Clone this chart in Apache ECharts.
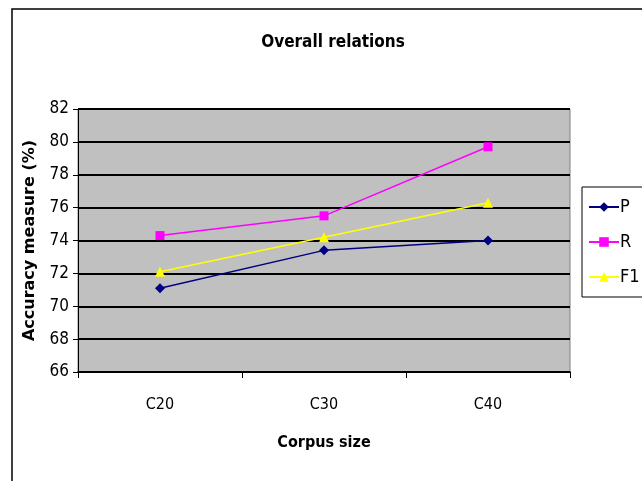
<!DOCTYPE html>
<html>
<head>
<meta charset="utf-8">
<script src="https://cdn.jsdelivr.net/npm/echarts@6/dist/echarts.min.js"></script>
<style>
html, body { margin: 0; padding: 0; background: #fff; }
#container { width: 642px; height: 481px; }
</style>
</head>
<body>
<div id="container"></div>
<script>
var categories = ['C20', 'C30', 'C40'];
var pValues = [71.1, 73.4, 74.0];
var rValues = [74.3, 75.5, 79.7];
var f1Values = [72.1, 74.2, 76.3];

window.onload = function () {
    var dom = document.getElementById("container");
    var myChart = echarts.init(dom);
    var narrow = '"DejaVu Sans Condensed", "Liberation Sans Narrow", sans-serif';
    var option = {
        backgroundColor: '#fff',
        graphic: [{
            type: 'rect',
            shape: { x: 12, y: 9, width: 640, height: 480 },
            style: { fill: 'none', stroke: '#000', lineWidth: 1.5 },
            z: 0
        }],
        title: {
            text: 'Overall relations',
            left: 328,
            top: 29,
            textAlign: 'center',
            textStyle: { fontFamily: narrow, fontSize: 17, fontWeight: 'bold', color: '#000' }
        },
        legend: {
            orient: 'vertical',
            left: 582,
            top: 187,
            padding: [11, 6, 11, 6],
            itemGap: 17,
            itemWidth: 30,
            itemHeight: 12,
            borderColor: '#000',
            borderWidth: 1,
            textStyle: { fontFamily: narrow, fontSize: 18, color: '#000', padding: [0, 0, 0, -4] },
            data: ['P', 'R', 'F1']
        },
        grid: {
            left: 78,
            top: 109,
            width: 492,
            height: 263,
            show: true,
            backgroundColor: '#c0c0c0',
            borderColor: '#808080',
            borderWidth: 1
        },
        xAxis: {
            type: 'category',
            data: categories,
            boundaryGap: true,
            name: 'Corpus size',
            nameLocation: 'middle',
            nameGap: 63,
            nameTextStyle: { fontFamily: narrow, fontSize: 16, fontWeight: 'bold', color: '#000' },
            axisLine: { lineStyle: { color: '#000', width: 1.5 } },
            axisTick: { show: true, length: 6, lineStyle: { color: '#000' } },
            axisLabel: { fontFamily: narrow, fontSize: 16, color: '#000', margin: 25 }
        },
        yAxis: {
            type: 'value',
            min: 66,
            max: 82,
            interval: 2,
            name: 'Accuracy measure (%)',
            nameLocation: 'middle',
            nameGap: 40,
            nameTextStyle: { fontFamily: '"DejaVu Sans", sans-serif', fontSize: 16, fontWeight: 'bold', color: '#000' },
            axisLine: { show: true, lineStyle: { color: '#000', width: 1 } },
            axisTick: { show: true, length: 5, lineStyle: { color: '#000' } },
            axisLabel: { fontFamily: narrow, fontSize: 17, color: '#000', margin: 9 },
            splitLine: { show: true, lineStyle: { color: '#000', width: 2 } }
        },
        series: [{
            name: 'P',
            type: 'line',
            data: pValues,
            symbol: 'diamond',
            symbolSize: 10,
            color: '#000080',
            lineStyle: { width: 1.5, color: '#000080' },
            itemStyle: { color: '#000080' }
        }, {
            name: 'R',
            type: 'line',
            data: rValues,
            symbol: 'rect',
            symbolSize: 9,
            color: '#ff00ff',
            lineStyle: { width: 1.5, color: '#ff00ff' },
            itemStyle: { color: '#ff00ff' }
        }, {
            name: 'F1',
            type: 'line',
            data: f1Values,
            symbol: 'triangle',
            symbolSize: 10,
            color: '#ffff00',
            lineStyle: { width: 1.5, color: '#ffff00' },
            itemStyle: { color: '#ffff00' }
        }]
    };
    myChart.setOption(option);
};
</script>
</body>
</html>
